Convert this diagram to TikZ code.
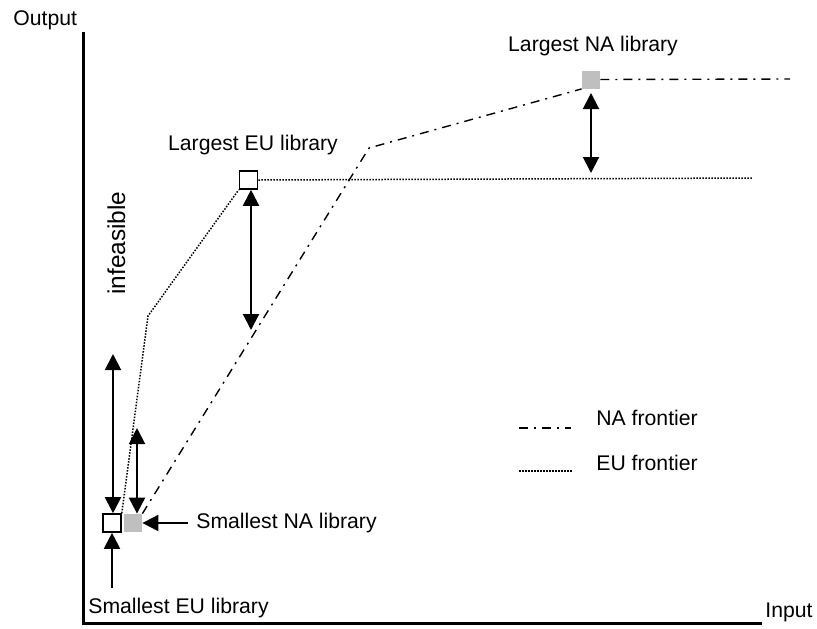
\documentclass[tikz,border=0pt]{standalone}
\usepackage{fontspec}
\setmainfont{Liberation Sans}
\usetikzlibrary{arrows.meta}

\tikzset{
  lib/.style={minimum size=9pt, inner sep=0pt},
  eulib/.style={lib, draw, fill=white, line width=0.8pt},
  nalib/.style={lib, fill=black!25},
  lbl/.style={inner sep=0pt, font=\fontsize{10.6}{12}\selectfont},
  ptr/.style={line width=1pt, -{Triangle[length=8pt,width=8pt]}},
  gap/.style={line width=1pt, {Triangle[length=8pt,width=8pt]}-{Triangle[length=8pt,width=8pt]}},
  nafront/.style={line width=0.7pt, dash pattern=on 4.5pt off 3pt on 1pt off 3pt},
  eufront/.style={line width=0.75pt, dash pattern=on 0.75pt off 0.75pt},
}

\begin{document}
\begin{tikzpicture}[x=0.5pt,y=-0.5pt]
        \useasboundingbox (0,0) rectangle (817,628);
        % axes
        \coordinate (ytop)   at (83,32);
        \coordinate (origin) at (83,623);
        \coordinate (xend)   at (762,623);
        \draw[line width=1.5pt] (ytop) -- (origin) -- (xend);
        \node[lbl, anchor=west] (output) at (13,20)   {Output};
        \node[lbl, anchor=west] (input)  at (765,612) {Input};

        % libraries
        \node[eulib] (seu) at (112,523) {};
        \node[nalib] (sna) at (133,523) {};
        \node[eulib] (leu) at (248.5,180) {};
        \node[nalib] (lna) at (591,79.5) {};
        \node[lbl, anchor=west] (seutxt) at (88,608)  {Smallest EU library};
        \node[lbl, anchor=west] (snatxt) at (196,523) {Smallest NA library};
        \node[lbl] (leutxt) at (253,145) {Largest EU library};
        \node[lbl] (lnatxt) at (593,46)  {Largest NA library};
        \node[lbl, rotate=90, font=\fontsize{12.2}{14}\selectfont] (infeas) at (116.5,243) {infeasible};

        % frontiers
        \coordinate (eukink) at (148,316);
        \coordinate (euend)  at (752,178);
        \coordinate (nakink) at (369,148);
        \coordinate (naend)  at (790,79);
        \draw[eufront] (seu.north east) -- (eukink) -- (leu.south west);
        \draw[eufront] (leu.east) -- (euend);
        \draw[nafront] (sna.north east) -- (nakink) -- (lna.south west);
        \draw[nafront] (lna.east) -- (naend);

        % pointers and gaps
        \coordinate (seuin) at (112,588);
        \coordinate (snain) at (188,523);
        \draw[ptr] (seuin) -- (seu);
        \draw[ptr] (snain) -- (sna);
        \coordinate (gapa) at (113,354);
        \coordinate (gapb) at (137,428);
        \coordinate (gapc) at (251,330);
        \coordinate (gapd) at (591,93);
        \coordinate (gape) at (591,173);
        \draw[gap] (gapa) -- (gapa |- seu.north);
        \draw[gap] (gapb) -- (gapb |- sna.north);
        \draw[gap] (leu.south -| gapc) -- (gapc);
        \draw[gap] (gapd) -- (gape);

        % legend
        \coordinate (nakey1) at (519,428);
        \coordinate (nakey2) at (571,428);
        \coordinate (eukey1) at (519,471);
        \coordinate (eukey2) at (572,471);
        \draw[nafront] (nakey1) -- (nakey2);
        \draw[eufront] (eukey1) -- (eukey2);
        \node[lbl, anchor=west] (nakey) at (596,418) {NA frontier};
        \node[lbl, anchor=west] (eukey) at (596,463) {EU frontier};
\end{tikzpicture}
\end{document}
